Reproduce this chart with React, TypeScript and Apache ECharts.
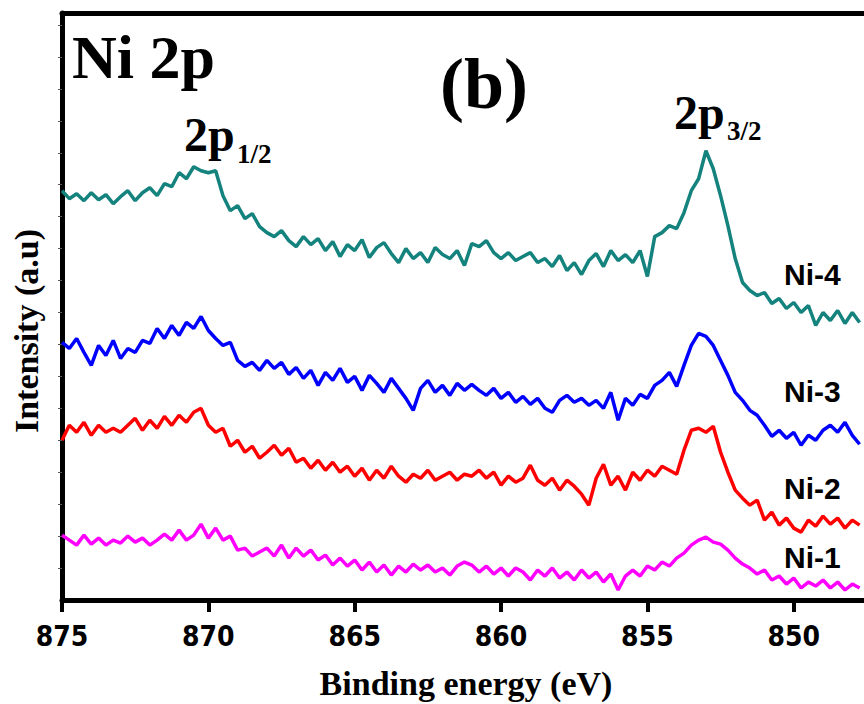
import React, { useEffect, useRef } from "react";
import * as echarts from "echarts";

// Binding energy grid (eV), 0.25 eV step from 875 eV downwards
const energies: number[] = Array.from({ length: 110 }, (_, i) => 875 - i * 0.25);

const xTicks = [875, 870, 865, 860, 855, 850];
const yTicks = [32, 64, 96, 128, 160, 192, 224, 256, 288, 320, 352, 384, 416, 448, 480, 512, 544, 576];

// Intensities (a.u., offset stacked)
const ni4 = [
  410, 402, 407, 400, 408, 401, 406, 397, 404, 410,
  400, 408, 413, 405, 417, 414, 428, 422, 434, 430,
  428, 430, 405, 390, 395, 382, 387, 374, 368, 364,
  370, 360, 354, 364, 356, 362, 350, 359, 344, 356,
  350, 361, 343, 353, 358, 347, 338, 352, 342, 348,
  338, 353, 346, 342, 350, 335, 357, 354, 360, 348,
  342, 348, 340, 344, 348, 338, 342, 334, 345, 330,
  338, 326, 340, 347, 334, 350, 340, 346, 338, 350,
  324, 364, 368, 375, 372, 388, 410, 422, 450, 432,
  405, 375, 342, 318, 310, 305, 308, 297, 302, 292,
  298, 288, 295, 275, 288, 280, 290, 277, 288, 278,
];

const ni3 = [
  258, 252, 262, 248, 235, 255, 245, 260, 242, 252,
  248, 260, 257, 272, 262, 275, 265, 278, 272, 284,
  270, 262, 255, 258, 240, 234, 238, 230, 240, 232,
  238, 226, 233, 222, 230, 215, 228, 220, 232, 218,
  224, 210, 225, 217, 208, 222, 212, 202, 190, 212,
  220, 208, 215, 205, 217, 210, 216, 210, 205, 212,
  202, 208, 198, 204, 196, 202, 192, 188, 200, 205,
  198, 202, 195, 200, 192, 208, 180, 202, 195, 206,
  202, 215, 220, 228, 214, 235, 255, 267, 264, 255,
  240, 225, 208, 200, 190, 185, 175, 164, 170, 162,
  168, 155, 165, 160, 170, 175, 168, 178, 165, 156,
];

const ni2 = [
  160, 175, 168, 178, 165, 175, 168, 172, 168, 175,
  182, 170, 180, 172, 184, 175, 185, 178, 188, 192,
  175, 168, 172, 154, 160, 148, 154, 142, 148, 155,
  145, 152, 138, 142, 132, 140, 130, 138, 128, 134,
  124, 132, 120, 130, 122, 134, 124, 118, 126, 122,
  130, 120, 124, 128, 120, 126, 124, 130, 122, 128,
  115, 124, 118, 122, 135, 120, 115, 122, 110, 120,
  114, 106, 95, 122, 136, 115, 124, 110, 128, 120,
  130, 124, 134, 130, 126, 150, 170, 172, 168, 174,
  148, 128, 110, 102, 95, 100, 80, 88, 75, 82,
  72, 68, 80, 74, 84, 76, 82, 72, 80, 75,
];

const ni1 = [
  65, 60, 55, 65, 56, 62, 55, 60, 57, 64,
  58, 62, 55, 60, 66, 60, 70, 60, 65, 76,
  62, 72, 60, 64, 50, 52, 44, 48, 52, 44,
  55, 42, 52, 44, 50, 40, 45, 35, 42, 34,
  40, 30, 38, 28, 35, 25, 34, 28, 36, 30,
  35, 28, 32, 25, 34, 38, 35, 28, 34, 26,
  32, 24, 32, 28, 20, 30, 24, 32, 22, 28,
  20, 30, 22, 28, 18, 26, 10, 24, 30, 24,
  34, 30, 38, 34, 42, 47, 55, 60, 63, 58,
  56, 50, 42, 36, 32, 26, 30, 20, 24, 16,
  22, 12, 18, 14, 20, 12, 18, 10, 16, 12,
];

const seriesNames = ["Ni-4", "Ni-3", "Ni-2", "Ni-1"];
const seriesValues = [ni4, ni3, ni2, ni1];
const seriesColors = ["#14827d", "#0000ff", "#ff0000", "#ff00ff"];
const labelCenters = [274, 391, 488, 557];

const serif = "'Liberation Serif', 'Times New Roman', serif";
const sans = "'Liberation Sans', Arial, sans-serif";
const narrow = "'Liberation Sans Narrow', 'Arial Narrow', 'DejaVu Sans Condensed', sans-serif";

export default function App() {
  const ref = useRef<HTMLDivElement>(null);

  useEffect(() => {
    if (!ref.current) return;
    const chart = echarts.init(ref.current, undefined, { renderer: "svg" });

    const series = seriesValues.map((vals, k) => ({
      name: seriesNames[k],
      type: "line" as const,
      data: energies.map((e, i) => [e, vals[i]]),
      showSymbol: false,
      symbol: "none",
      silent: true,
      lineStyle: { color: seriesColors[k], width: 3.5 },
      itemStyle: { color: seriesColors[k] },
      z: 3,
    }));

    const graphic: any[] = [
      {
        type: "text",
        x: 72,
        y: 57,
        style: { text: "Ni 2p", font: `bold 62px ${serif}`, fill: "#000", align: "left", verticalAlign: "middle" },
      },
      {
        type: "text",
        x: 440,
        y: 84,
        style: { text: "(b)", font: `bold 72px ${serif}`, fill: "#000", align: "left", verticalAlign: "middle" },
      },
      {
        type: "text",
        x: 184,
        y: 134,
        style: { text: "2p", font: `bold 48px ${serif}`, fill: "#000", align: "left", verticalAlign: "middle" },
      },
      {
        type: "text",
        x: 237,
        y: 154,
        style: { text: "1/2", font: `bold 27px ${serif}`, fill: "#000", align: "left", verticalAlign: "middle" },
      },
      {
        type: "text",
        x: 674,
        y: 112,
        style: { text: "2p", font: `bold 48px ${serif}`, fill: "#000", align: "left", verticalAlign: "middle" },
      },
      {
        type: "text",
        x: 727,
        y: 131,
        style: { text: "3/2", font: `bold 27px ${serif}`, fill: "#000", align: "left", verticalAlign: "middle" },
      },
      {
        type: "text",
        x: 466,
        y: 683,
        style: { text: "Binding energy (eV)", font: `bold 34px ${serif}`, fill: "#000", align: "center", verticalAlign: "middle" },
      },
      {
        type: "text",
        x: 26,
        y: 331,
        rotation: Math.PI / 2,
        style: { text: "Intensity (a.u)", font: `bold 34px ${serif}`, fill: "#000", align: "center", verticalAlign: "middle" },
      },
      ...seriesNames.map((n, k) => ({
        type: "text",
        x: 784,
        y: labelCenters[k],
        style: { text: n, font: `bold 30px ${sans}`, fill: "#000", align: "left", verticalAlign: "middle" },
      })),
    ];

    chart.setOption({
      animation: false,
      backgroundColor: "#ffffff",
      grid: {
        left: 62,
        top: 13,
        right: 0,
        bottom: 104,
        show: false,
      },
      xAxis: [
        {
          type: "value",
          min: 847.6,
          max: 875,
          inverse: true,
          axisLine: { show: true, lineStyle: { color: "#000", width: 5 } },
          axisTick: {
            show: true,
            inside: false,
            length: 12,
            customValues: xTicks,
            lineStyle: { color: "#000", width: 4 },
          },
          axisLabel: {
            show: true,
            margin: 22,
            color: "#000",
            fontFamily: narrow,
            fontWeight: "bold",
            fontSize: 28,
            customValues: xTicks,
            formatter: (v: number) => String(Math.round(v)),
          },
          splitLine: { show: false },
        },
        {
          type: "value",
          position: "top",
          min: 847.6,
          max: 875,
          inverse: true,
          axisLine: { show: true, lineStyle: { color: "#000", width: 5 } },
          axisTick: { show: false },
          axisLabel: { show: false },
          splitLine: { show: false },
        },
      ],
      yAxis: {
        type: "value",
        min: 0,
        max: 588,
        axisLine: { show: true, lineStyle: { color: "#000", width: 5 } },
        axisTick: {
          show: true,
          inside: false,
          length: 4,
          customValues: yTicks,
          lineStyle: { color: "#555", width: 1 },
        },
        axisLabel: { show: false },
        splitLine: { show: false },
      },
      series,
      graphic,
    });

    return () => chart.dispose();
  }, []);

  return (
    <div
      ref={ref}
      style={{ position: "fixed", left: 0, top: 0, width: 864, height: 704, background: "#fff" }}
    />
  );
}
